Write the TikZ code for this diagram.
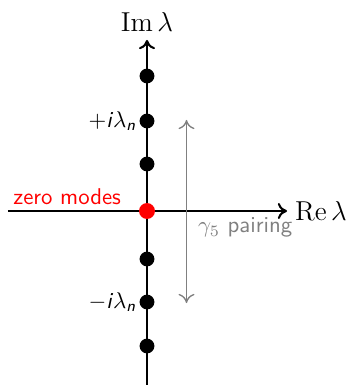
\documentclass[tikz,border=0pt]{standalone}
\usetikzlibrary{arrows.meta}
\begin{document}
\begin{tikzpicture}[x=0.4386pt,y=0.4386pt,
  axis/.style={line width=0.9pt,-{To[length=4pt,width=7pt]}},
  eig/.style={circle,fill=black,inner sep=0pt,minimum size=6.5pt},
  zeromode/.style={circle,fill=red,inner sep=0pt,minimum size=7pt},
  pairarrow/.style={gray,line width=0.6pt,{To[length=4pt,width=7pt]}-{To[length=4pt,width=7pt]}},
  lab/.style={font=\sffamily}]
\useasboundingbox (-147,-174) rectangle (206,211);
% axes
\coordinate (xl) at (-139,0);
\coordinate (xr) at (140,0);
\coordinate (yb) at (0,-174);
\coordinate (yt) at (0,171);
\draw[axis] (xl) -- (xr);
\draw[axis] (yb) -- (yt);
\node[anchor=south,font=\large] (im) at (yt) {$\mathrm{Im}\,\lambda$};
\node[anchor=west,font=\large] (re) at (xr) {$\mathrm{Re}\,\lambda$};
% eigenvalues
\node[eig] (p3) at (0,135) {};
\node[eig] (p2) at (0,90) {};
\node[eig] (p1) at (0,47) {};
\node[eig] (m1) at (0,-48) {};
\node[eig] (m2) at (0,-91) {};
\node[eig] (m3) at (0,-135) {};
\node[zeromode] (z) at (0,0) {};
% labels
\node[lab,anchor=east,inner sep=1pt] (lp) at (p2.west) {+\textit{i}$\lambda$\textsubscript{\textit{n}}};
\node[lab,anchor=east,inner sep=1pt] (lm) at (m2.west) {$-$\textit{i}$\lambda$\textsubscript{\textit{n}}};
\node[lab,red,anchor=south east,inner sep=2pt] (zl) at (-21,1) {zero modes};
% gamma5 pairing
\coordinate (gt) at (39.5,91);
\coordinate (gb) at (39.5,-92);
\draw[pairarrow] (gb) -- (gt);
\node[lab,gray,anchor=north west,inner sep=2pt] (gl) at (46,-2) {$\gamma_5$ pairing};
\end{tikzpicture}
\end{document}
